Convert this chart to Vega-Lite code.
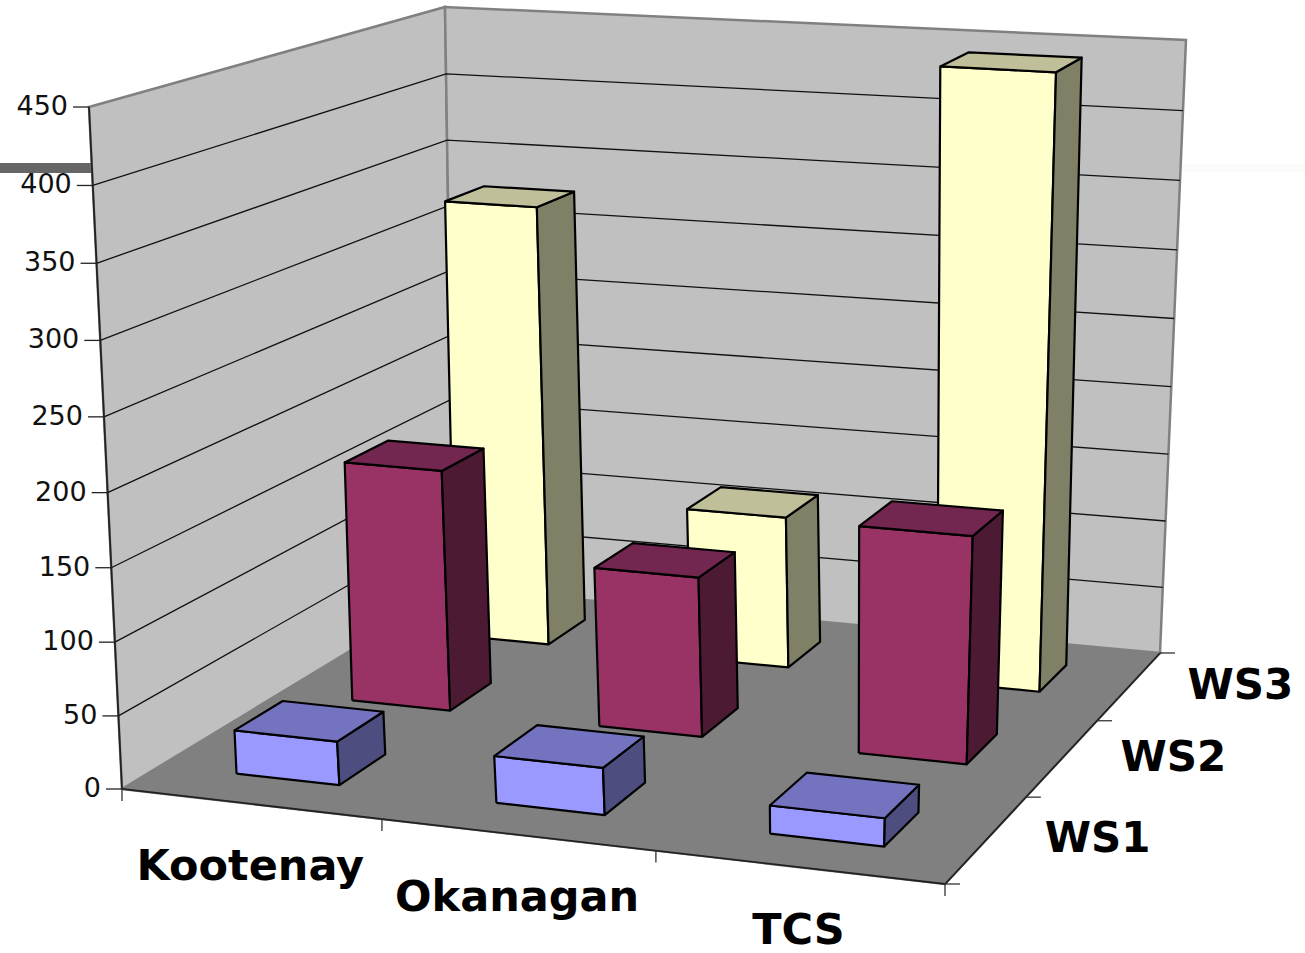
{"$schema":"https://vega.github.io/schema/vega-lite/v6.json","autosize":"none","width":1305,"height":953,"padding":0,"background":"white","view":{"stroke":null},"config":{"style":{"cell":{"stroke":null}}},
"data":{"values":[
{"kind":"wall","part":"floor"},{"kind":"wall","part":"left"},{"kind":"wall","part":"back"},
{"kind":"grid","value":0},{"kind":"grid","value":50},{"kind":"grid","value":100},{"kind":"grid","value":150},{"kind":"grid","value":200},{"kind":"grid","value":250},{"kind":"grid","value":300},{"kind":"grid","value":350},{"kind":"grid","value":400},{"kind":"grid","value":450},
{"kind":"edge"},
{"kind":"rtick","at":0},{"kind":"rtick","at":1},{"kind":"rtick","at":2},{"kind":"rtick","at":3},
{"kind":"stick","at":0},{"kind":"stick","at":1},{"kind":"stick","at":2},{"kind":"stick","at":3},
{"kind":"rlabel","region":"Kootenay"},{"kind":"rlabel","region":"Okanagan"},{"kind":"rlabel","region":"TCS"},
{"kind":"slabel","series":"WS1"},{"kind":"slabel","series":"WS2"},{"kind":"slabel","series":"WS3"},
{"kind":"bar","region":"Kootenay","series":"WS3","value":326},{"kind":"bar","region":"Okanagan","series":"WS3","value":112},{"kind":"bar","region":"TCS","series":"WS3","value":442},
{"kind":"bar","region":"Kootenay","series":"WS2","value":172},{"kind":"bar","region":"Okanagan","series":"WS2","value":113},{"kind":"bar","region":"TCS","series":"WS2","value":159},
{"kind":"bar","region":"Kootenay","series":"WS1","value":30},{"kind":"bar","region":"Okanagan","series":"WS1","value":32},{"kind":"bar","region":"TCS","series":"WS1","value":19}
]},
"transform":[
{"calculate":"indexof(['Kootenay','Okanagan','TCS'],datum.region)","as":"i"},
{"calculate":"indexof(['WS1','WS2','WS3'],datum.series)","as":"j"},
{"calculate":"datum.kind=='bar'?['front','side','top']:['all']","as":"face"},{"flatten":["face"]},
{"calculate":"datum.kind=='bar'||datum.kind=='wall'?[0,1,2,3,4]:(datum.kind=='grid'?[0,1,2]:(datum.kind=='edge'?[0,1,2,3]:[0]))","as":"corner"},{"flatten":["corner"]},
{"calculate":"datum.corner==1||datum.corner==2?1:0","as":"s"},
{"calculate":"datum.corner==2||datum.corner==3?1:0","as":"t"},
{"calculate":"(datum.i+0.5)/3-0.067+datum.s*0.134","as":"bu"},
{"calculate":"(datum.j+0.5)/3-0.065","as":"bv0"},
{"calculate":"datum.kind=='wall'?(datum.part=='left'?0:datum.s):datum.kind=='grid'?(datum.corner==2?1:0):datum.kind=='edge'?(datum.corner>=2?1:0):datum.kind=='rtick'?datum.at/3:datum.kind=='stick'||datum.kind=='slabel'?1:datum.kind=='rlabel'?(datum.i+0.5)/3:datum.face=='side'?(datum.i+0.5)/3+0.067:datum.bu","as":"u"},
{"calculate":"datum.kind=='wall'?(datum.part=='back'?1:datum.part=='left'?datum.s:datum.t):datum.kind=='grid'?(datum.corner>=1?1:0):datum.kind=='edge'?(datum.corner==3?1:0):datum.kind=='stick'?datum.at/3:datum.kind=='slabel'?(datum.j+0.5)/3:datum.kind=='rtick'||datum.kind=='rlabel'?0:datum.face=='front'?datum.bv0:datum.face=='side'?datum.bv0+0.133*datum.s:datum.bv0+0.133*datum.t","as":"v"},
{"calculate":"datum.kind=='wall'?(datum.part=='floor'?0:450*datum.t):datum.kind=='grid'?datum.value:datum.kind=='edge'?(datum.corner==0?450:0):datum.kind=='bar'?(datum.face=='top'?datum.value:datum.value*datum.t):0","as":"h"},
{"calculate":"datum.h/450-0.04*(datum.h/450)*(1-datum.h/450)","as":"p"},
{"calculate":"(750.55*datum.u+417.84*datum.v+122)/(-0.07667*datum.u+0.18907*datum.v+1)","as":"fx"},
{"calculate":"(27.22*datum.u-89.83*datum.v+789)/(-0.07667*datum.u+0.18907*datum.v+1)","as":"fy"},
{"calculate":"(693.28*datum.u+468.13*datum.v+89)/(-0.19766*datum.u+0.25197*datum.v+1)","as":"tx"},
{"calculate":"(33.41*datum.u-98.24*datum.v+107)/(-0.19766*datum.u+0.25197*datum.v+1)","as":"ty"},
{"calculate":"datum.fx+(datum.tx-datum.fx)*datum.p","as":"sx"},
{"calculate":"datum.fy+(datum.ty-datum.fy)*datum.p","as":"sy"},
{"calculate":"datum.series+' '+datum.region+' '+datum.face","as":"poly"},
{"calculate":"datum.series+' '+datum.face","as":"shade"}
],
"encoding":{"x":{"field":"sx","type":"quantitative","scale":{"domain":[0,1305],"nice":false,"zero":false},"axis":null},"y":{"field":"sy","type":"quantitative","scale":{"domain":[953,0],"nice":false,"zero":false},"axis":null}},
"resolve":{"scale":{"fill":"independent"}},
"layer":[
{"transform":[{"filter":"datum.kind=='wall'&&datum.part=='floor'&&datum.corner==0"}],"mark":{"type":"rule","stroke":"#666666","strokeWidth":10},"encoding":{"x":{"datum":0},"x2":{"datum":92},"y":{"datum":168}}},
{"transform":[{"filter":"datum.kind=='wall'&&datum.part=='floor'&&datum.corner==0"}],"mark":{"type":"rule","stroke":"#fafafa","strokeWidth":8},"encoding":{"x":{"datum":1182},"x2":{"datum":1305},"y":{"datum":168}}},
{"transform":[{"filter":"datum.kind=='wall'"}],"mark":{"type":"line","filled":true,"stroke":"#808080","strokeWidth":2.5,"clip":false},"encoding":{"detail":{"field":"part"},"order":{"field":"corner"},"fill":{"field":"part","type":"nominal","legend":null,"scale":{"domain":["floor","left","back"],"range":["#808080","#C0C0C0","#C0C0C0"]}}}},
{"transform":[{"filter":"datum.kind=='grid'&&datum.value>0&&datum.value<450"}],"mark":{"type":"line","stroke":"#111111","strokeWidth":1.3},"encoding":{"detail":{"field":"value"},"order":{"field":"corner"}}},
{"transform":[{"filter":"datum.kind=='edge'"}],"mark":{"type":"line","stroke":"#222222","strokeWidth":1.8},"encoding":{"order":{"field":"corner"}}},
{"transform":[{"filter":"datum.kind=='grid'&&datum.corner==0"}],"mark":{"type":"rule","stroke":"#222222","strokeWidth":1.3,"x2Offset":-16},"encoding":{"x2":{"field":"sx"}}},
{"transform":[{"filter":"datum.kind=='rtick'"}],"mark":{"type":"rule","stroke":"#333333","strokeWidth":1.3,"y2Offset":12},"encoding":{"y2":{"field":"sy"}}},
{"transform":[{"filter":"datum.kind=='stick'"}],"mark":{"type":"rule","stroke":"#333333","strokeWidth":1.3,"x2Offset":15},"encoding":{"x2":{"field":"sx"}}},
{"transform":[{"filter":"datum.kind=='bar'"}],"mark":{"type":"line","filled":true,"stroke":"#000000","strokeWidth":2.2,"strokeJoin":"round"},"encoding":{"detail":{"field":"poly"},"order":{"field":"corner"},"fill":{"field":"shade","type":"nominal","legend":null,"scale":{"domain":["WS3 front","WS3 side","WS3 top","WS2 front","WS2 side","WS2 top","WS1 front","WS1 side","WS1 top"],"range":["#FFFFCC","#808066","#BFBF99","#993366","#4D1A33","#732650","#9999FF","#4D4D80","#7373BF"]}}}},
{"transform":[{"filter":"datum.kind=='grid'&&datum.corner==0"}],"mark":{"type":"text","font":"DejaVu Sans","fontSize":27,"align":"right","baseline":"middle","dx":-21,"dy":0,"color":"#111111"},"encoding":{"text":{"field":"value","type":"quantitative"}}},
{"transform":[{"filter":"datum.kind=='rlabel'"}],"mark":{"type":"text","font":"DejaVu Sans","fontWeight":"bold","fontSize":43,"align":"center","baseline":"middle","dy":63.5,"color":"#000000"},"encoding":{"text":{"field":"region","type":"nominal"}}},
{"transform":[{"filter":"datum.kind=='slabel'"}],"mark":{"type":"text","font":"DejaVu Sans","fontWeight":"bold","fontSize":42,"align":"left","baseline":"middle","dx":58,"dy":0,"color":"#000000"},"encoding":{"text":{"field":"series","type":"nominal"}}}
]}
